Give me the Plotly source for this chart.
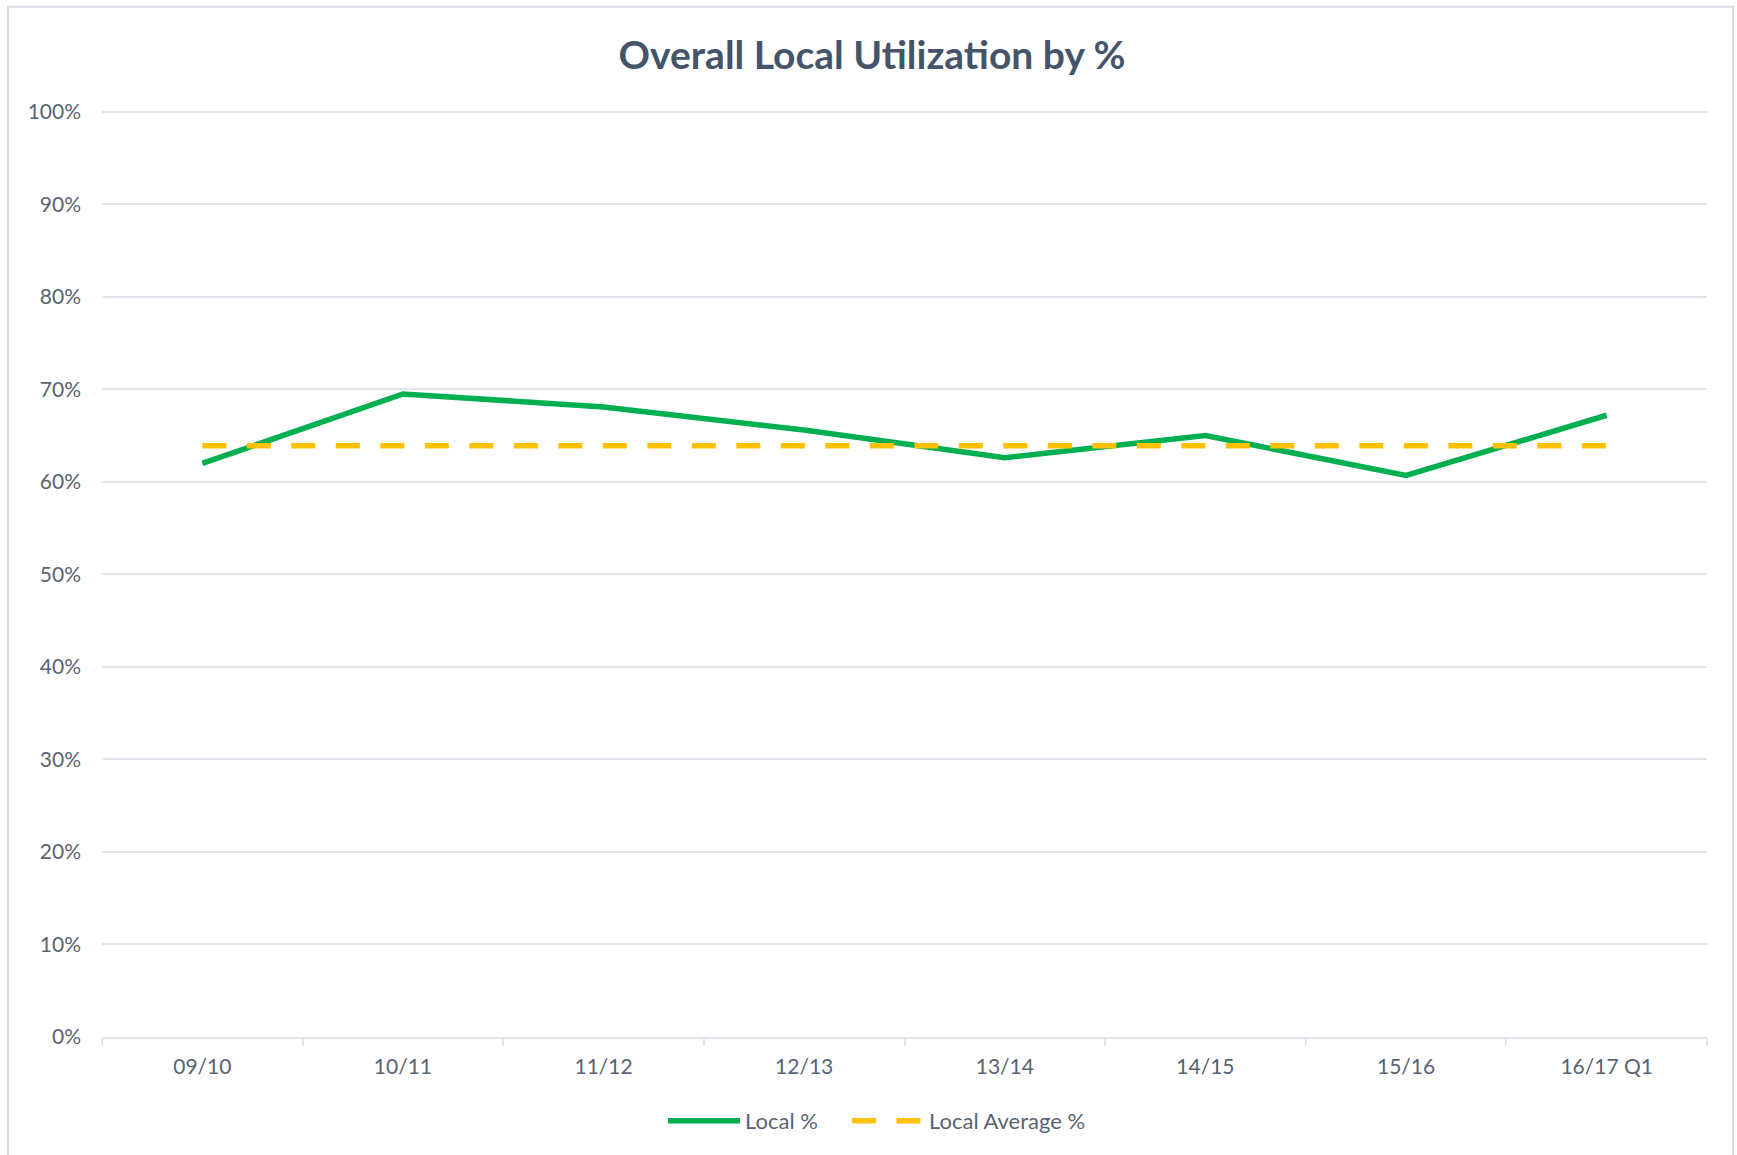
import plotly.graph_objects as go

categories = ["09/10", "10/11", "11/12", "12/13", "13/14", "14/15", "15/16", "16/17 Q1"]
local_pct = [62.0, 69.5, 68.1, 65.6, 62.6, 65.0, 60.7, 67.2]
local_avg_pct = [63.9, 63.9, 63.9, 63.9, 63.9, 63.9, 63.9, 63.9]
y_ticks = [0, 10, 20, 30, 40, 50, 60, 70, 80, 90, 100]
y_tick_labels = [f"{v}%" for v in y_ticks]

W, H = 1737, 1155
Y_TOP = 100.3
L, R, B = 102, 30, 118
ph = (H - B) - 112
T = 112 - ph * (Y_TOP - 100) / 100
FONT = "Lato, 'Open Sans', sans-serif"
TXT = "#586374"
GRID = "#E2E5EB"

fig = go.Figure()
fig.add_trace(go.Scatter(
    x=categories, y=local_pct, name="Local %", mode="lines",
    line=dict(color="#00B050", width=5.5), legendwidth=97,
))
fig.add_trace(go.Scatter(
    x=categories, y=local_avg_pct, name="Local Average %", mode="lines",
    line=dict(color="#FFC000", width=5.5, dash="24px,20.5px"),
))

pw = W - L - R
pht = H - T - B
fig.add_shape(type="rect", xref="paper", yref="paper",
              x0=(8 - L) / pw, x1=(1733 - L) / pw,
              y0=-(B + 10) / pht, y1=1 + (T - 7) / pht,
              line=dict(color="#D9DCE6", width=2), fillcolor="rgba(0,0,0,0)", layer="below")

fig.update_layout(
    width=W, height=H,
    margin=dict(l=L, r=R, t=T, b=B),
    paper_bgcolor="white", plot_bgcolor="white",
    font=dict(family=FONT, color=TXT, size=21),
    title=dict(text="<b>Overall Local Utilization by %</b>", x=872 / W, xref="container",
               xanchor="center", y=1 - 55 / H, yanchor="middle", yref="container",
               font=dict(family=FONT, size=39, color="#44546A")),
    showlegend=True,
    legend=dict(orientation="h", x=877 / W, xref="container", xanchor="center",
                y=1 - 1121 / H, yref="container", yanchor="middle",
                font=dict(size=22, color=TXT), itemwidth=72, bgcolor="rgba(0,0,0,0)"),
    xaxis=dict(type="category", range=[-0.5, 7.5], showgrid=False,
               showline=True, linecolor=GRID, linewidth=2,
               ticks="outside", tickson="boundaries", ticklen=7, tickcolor=GRID, tickwidth=2,
               ticklabelstandoff=10,
               tickfont=dict(size=21, color=TXT), fixedrange=True),
    yaxis=dict(range=[0, Y_TOP], tickvals=y_ticks, ticktext=y_tick_labels,
               showgrid=True, gridcolor=GRID, gridwidth=2, zeroline=False,
               showline=False, ticks="", ticklabelstandoff=20,
               tickfont=dict(size=21, color=TXT), fixedrange=True),
)

fig.write_html("out.html", config={"displayModeBar": False},
               post_script="document.body.style.margin='0';document.body.style.overflow='hidden';")
